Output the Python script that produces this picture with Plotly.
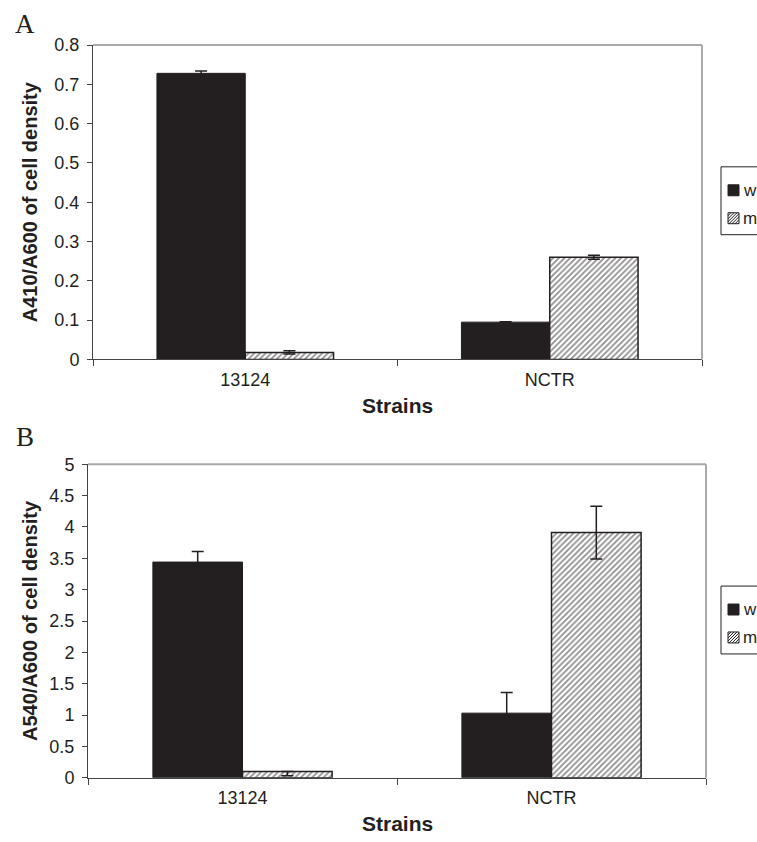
import plotly.graph_objects as go

W, H = 757, 842
DARK = "#231f20"
GRAY = "#a7a9ac"
FONT = "Liberation Sans"

# ---------------- data ----------------
strains = ["13124", "NCTR"]
legend_labels = ["w", "m"]

a_wt = [0.728, 0.095]
a_wt_err = [0.006, 0.001]
a_mut = [0.018, 0.260]
a_mut_err = [0.004, 0.005]

b_wt = [3.44, 1.03]
b_wt_err = [0.17, 0.33]
b_mut = [0.10, 3.91]
b_mut_err_plus = [0.0, 0.42]
b_mut_err_minus = [0.07, 0.42]

a_ticks = [0, 0.1, 0.2, 0.3, 0.4, 0.5, 0.6, 0.7, 0.8]
a_ticktext = ["0", "0.1", "0.2", "0.3", "0.4", "0.5", "0.6", "0.7", "0.8"]
b_ticks = [0, 0.5, 1, 1.5, 2, 2.5, 3, 3.5, 4, 4.5, 5]
b_ticktext = ["0", "0.5", "1", "1.5", "2", "2.5", "3", "3.5", "4", "4.5", "5"]

a_ytitle = "A410/A600 of cell density"
b_ytitle = "A540/A600 of cell density"
xtitle = "Strains"


def fx(px):
    return px / W


def py_adj(py):
    # compensate the vertical offset/scale observed in the captured page
    return (py - 7.9) / 0.978


def fy(py):
    return 1 - py_adj(py) / H


hatch = dict(shape="/", fgcolor=DARK, bgcolor="white", size=4, solidity=0.45)

fig = go.Figure()

# Panel A
fig.add_trace(go.Bar(
    x=strains, y=a_wt, name=legend_labels[0], xaxis="x", yaxis="y",
    marker=dict(color=DARK, line=dict(color=DARK, width=1)),
    error_y=dict(type="data", array=a_wt_err, color=DARK, thickness=1.5, width=6),
    showlegend=False))
fig.add_trace(go.Bar(
    x=strains, y=a_mut, name=legend_labels[1], xaxis="x", yaxis="y",
    marker=dict(color="white", pattern=hatch, line=dict(color=DARK, width=1.5)),
    error_y=dict(type="data", array=a_mut_err, color=DARK, thickness=1.5, width=6),
    showlegend=False))

# Panel B
fig.add_trace(go.Bar(
    x=strains, y=b_wt, name=legend_labels[0], xaxis="x2", yaxis="y2",
    marker=dict(color=DARK, line=dict(color=DARK, width=1)),
    error_y=dict(type="data", array=b_wt_err, color=DARK, thickness=1.5, width=6),
    showlegend=False))
fig.add_trace(go.Bar(
    x=strains, y=b_mut, name=legend_labels[1], xaxis="x2", yaxis="y2",
    marker=dict(color="white", pattern=hatch, line=dict(color=DARK, width=1.5)),
    error_y=dict(type="data", array=b_mut_err_plus, arrayminus=b_mut_err_minus,
                 symmetric=False, color=DARK, thickness=1.5, width=6),
    showlegend=False))

xcommon = dict(type="category", tickson="boundaries", ticks="outside", ticklen=6,
               tickcolor="#444", showline=True, linecolor="#444", linewidth=1,
               tickfont=dict(family=FONT, size=18, color=DARK), range=[-0.5, 1.5],
               ticklabelstandoff=4,
               showgrid=False, zeroline=False, fixedrange=True)
ycommon = dict(ticks="outside", ticklen=5, tickcolor="#444", showline=True,
               linecolor="#444", linewidth=1, showgrid=False, zeroline=False,
               ticklabelstandoff=4,
               tickfont=dict(family=FONT, size=18, color=DARK), fixedrange=True)

A = dict(l=93, r=702, t=43, b=358)
B = dict(l=88, r=706, t=463, b=777)

fig.update_layout(
    width=W, height=H, margin=dict(l=0, r=0, t=0, b=0),
    paper_bgcolor="white", plot_bgcolor="white",
    barmode="group", bargap=0.42, bargroupgap=0,
    xaxis=dict(domain=[fx(A["l"]), fx(A["r"])], anchor="y", **xcommon),
    yaxis=dict(domain=[fy(A["b"]), fy(A["t"])], anchor="x", range=[0, 0.8],
               tickvals=a_ticks, ticktext=a_ticktext, **ycommon),
    xaxis2=dict(domain=[fx(B["l"]), fx(B["r"])], anchor="y2", **xcommon),
    yaxis2=dict(domain=[fy(B["b"]), fy(B["t"])], anchor="x2", range=[0, 5],
                tickvals=b_ticks, ticktext=b_ticktext, **ycommon),
)

shapes = []
annotations = []
for xr, yr in [("x domain", "y domain"), ("x2 domain", "y2 domain")]:
    # gray plot-area border (top and right)
    shapes.append(dict(type="line", xref=xr, yref=yr, x0=0, x1=1, y0=1, y1=1,
                       line=dict(color=GRAY, width=2)))
    shapes.append(dict(type="line", xref=xr, yref=yr, x0=1, x1=1, y0=0, y1=1,
                       line=dict(color=GRAY, width=2)))

# axis titles and panel letters
for P, ytitle, letter, ly in [(A, a_ytitle, "A", 22), (B, b_ytitle, "B", 436)]:
    annotations.append(dict(text=ytitle, xref="paper", yref="paper", x=fx(30),
                            y=fy((P["t"] + P["b"]) / 2), showarrow=False, textangle=-90,
                            font=dict(family=FONT, size=20, color=DARK, weight="bold"),
                            xanchor="center", yanchor="middle"))
    annotations.append(dict(text=xtitle, xref="paper", yref="paper",
                            x=fx((P["l"] + P["r"]) / 2), y=fy(P["b"] + 46), showarrow=False,
                            font=dict(family=FONT, size=21, color=DARK, weight="bold"),
                            xanchor="center", yanchor="middle"))
    annotations.append(dict(text=letter, xref="paper", yref="paper", x=fx(25), y=fy(ly),
                            showarrow=False, xanchor="center", yanchor="middle",
                            font=dict(family="Liberation Serif", size=27, color=DARK)))

# manual legends (box runs past the right edge like the reference)
for top in [165, 585]:
    bot = top + 68
    shapes.append(dict(type="rect", xref="paper", yref="paper", x0=fx(721), x1=fx(800),
                       y0=fy(bot), y1=fy(top), line=dict(color=DARK, width=1),
                       fillcolor="rgba(0,0,0,0)"))
    r1 = top + 18
    shapes.append(dict(type="rect", xref="paper", yref="paper", x0=fx(728), x1=fx(739),
                       y0=fy(r1 + 11), y1=fy(r1), line=dict(color=DARK, width=1),
                       fillcolor=DARK))
    r2 = top + 46
    shapes.append(dict(type="rect", xref="paper", yref="paper", x0=fx(728), x1=fx(739),
                       y0=fy(r2 + 11), y1=fy(r2), line=dict(color=DARK, width=1),
                       fillcolor="white"))
    segs = []
    for k in range(-8, 12, 3):
        x0, y0 = 728 + k, r2 + 11
        x1, y1 = 728 + k + 11, r2
        if x0 < 728:
            y0 -= (728 - x0); x0 = 728
        if x1 > 739:
            y1 += (x1 - 739); x1 = 739
        if x1 > x0:
            segs.append(f"M{fx(x0)},{fy(y0)} L{fx(x1)},{fy(y1)}")
    shapes.append(dict(type="path", xref="paper", yref="paper", path=" ".join(segs),
                       line=dict(color=DARK, width=1)))
    annotations.append(dict(text=legend_labels[0], xref="paper", yref="paper", x=fx(741),
                            y=fy(r1 + 5.5), showarrow=False, xanchor="left", yanchor="middle",
                            font=dict(family=FONT, size=17, color=DARK)))
    annotations.append(dict(text=legend_labels[1], xref="paper", yref="paper", x=fx(741),
                            y=fy(r2 + 5.5), showarrow=False, xanchor="left", yanchor="middle",
                            font=dict(family=FONT, size=17, color=DARK)))

fig.update_layout(shapes=shapes, annotations=annotations)
fig.write_html("out.html", config={"displayModeBar": False},
               post_script="document.body.style.margin='0';document.body.style.overflow='hidden';")
